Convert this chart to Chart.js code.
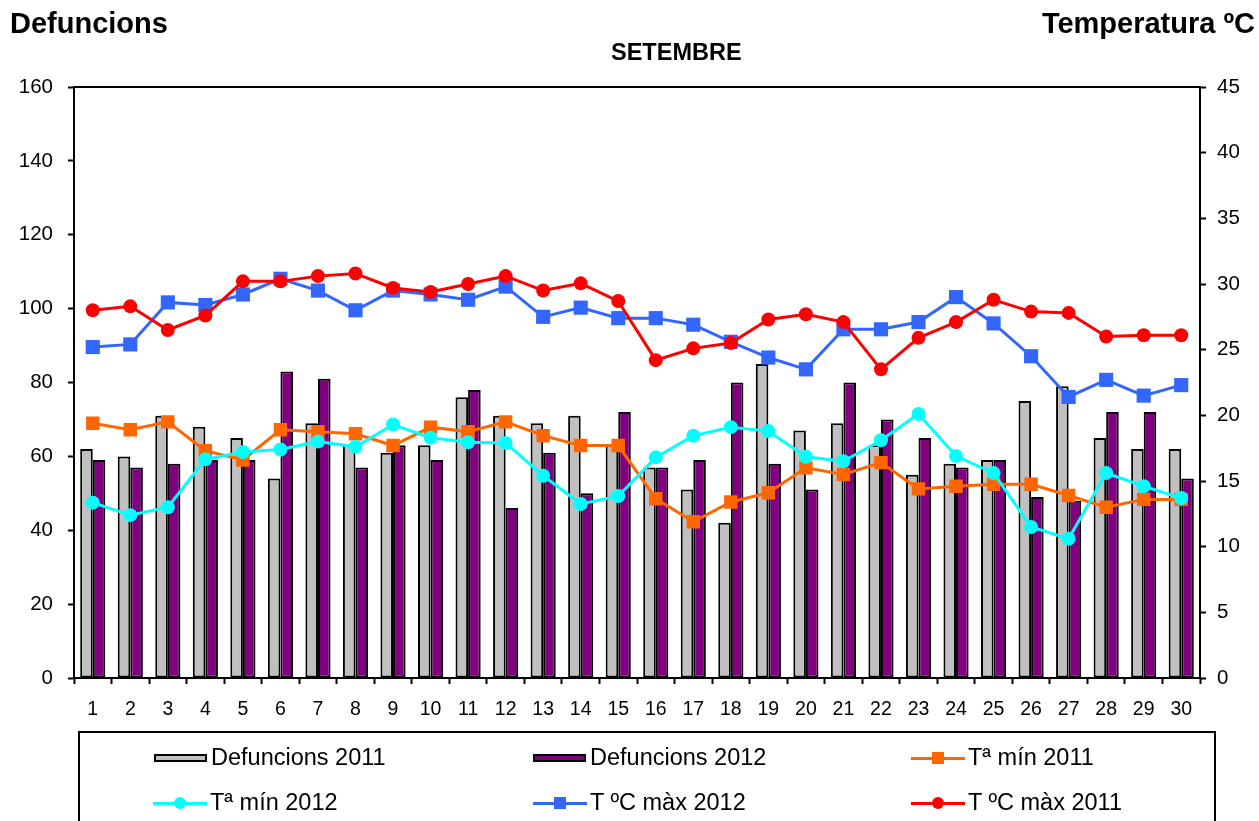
<!DOCTYPE html>
<html>
<head>
<meta charset="utf-8">
<script src="https://cdn.jsdelivr.net/npm/chart.js@4.4.0/dist/chart.umd.min.js"></script>
<style>
  body { margin: 0; width: 1259px; height: 821px; overflow: hidden; background: #fff;
         font-family: Arial, "Liberation Sans", sans-serif; position: relative; }
  #chart { position: absolute; left: 0; top: 0; }
  .hdr { position: absolute; font-weight: bold; font-size: 29px; line-height: 29px; color: #000; white-space: nowrap; }
  .ttl { position: absolute; font-weight: bold; font-size: 23.5px; line-height: 23.5px; white-space: nowrap; }
  #legend { position: absolute; left: 78px; top: 731px; width: 1138px; height: 120px;
            border: 2px solid #000; box-sizing: border-box; }
  .item { position: absolute; font-size: 23.5px; line-height: 23.5px; white-space: nowrap; color: #000; }
  .item span { position: absolute; left: 57px; top: 0; }
  .box { position: absolute; left: 0; top: 8px; width: 53px; height: 8px; border: 2px solid #000; box-sizing: border-box; }
  .ln { position: absolute; left: 0; top: 11px; width: 54px; height: 3px; }
  .mk { position: absolute; left: 21px; top: 6px; width: 12px; height: 12px; }
</style>
</head>
<body>
<canvas id="chart" width="1259" height="821"></canvas>
<div class="hdr" style="left:10px; top:9px;">Defuncions</div>
<div class="hdr" style="right:4px; top:9px;">Temperatura ºC</div>
<div class="ttl" style="left:611px; top:41px;">SETEMBRE</div>
<div id="legend"></div>

<script>
// day of month
const days = ['1','2','3','4','5','6','7','8','9','10','11','12','13','14','15',
              '16','17','18','19','20','21','22','23','24','25','26','27','28','29','30'];

// deaths (left axis)
const defuncions2011 = [62, 60, 71, 68, 65, 54, 69, 63, 61, 63, 76, 71, 69, 71, 63,
                        57, 51, 42, 85, 67, 69, 63, 55, 58, 59, 75, 79, 65, 62, 62];
const defuncions2012 = [59, 57, 58, 59, 59, 83, 81, 57, 63, 59, 78, 46, 61, 50, 72,
                        57, 59, 80, 58, 51, 80, 70, 65, 57, 59, 49, 48, 72, 72, 54];

// temperatures (right axis)
const tMin2011 = [19.4, 18.9, 19.5, 17.3, 16.6, 18.9, 18.75, 18.6, 17.7, 19.1, 18.75, 19.5, 18.45, 17.7, 17.7,
                  13.65, 11.9, 13.4, 14.1, 16.0, 15.5, 16.4, 14.4, 14.6, 14.75, 14.75, 13.9, 13.0, 13.6, 13.6];
const tMin2012 = [13.35, 12.4, 13.0, 16.65, 17.2, 17.4, 18.0, 17.6, 19.3, 18.3, 17.95, 17.9, 15.4, 13.25, 13.85,
                  16.8, 18.45, 19.1, 18.8, 16.85, 16.5, 18.1, 20.1, 16.9, 15.6, 11.5, 10.6, 15.6, 14.6, 13.7];
const tMax2012 = [25.2, 25.4, 28.6, 28.4, 29.2, 30.4, 29.5, 28.0, 29.5, 29.2, 28.8, 29.8, 27.5, 28.2, 27.4,
                  27.4, 26.9, 25.6, 24.4, 23.5, 26.55, 26.55, 27.1, 29.0, 27.0, 24.5, 21.4, 22.7, 21.5, 22.3];
const tMax2011 = [28.0, 28.3, 26.5, 27.6, 30.2, 30.2, 30.6, 30.8, 29.7, 29.4, 30.0, 30.6, 29.5, 30.05, 28.7,
                  24.2, 25.1, 25.5, 27.3, 27.7, 27.1, 23.5, 25.9, 27.1, 28.8, 27.9, 27.8, 26.0, 26.1, 26.1];

const leftTicks = { min: 0, max: 160, step: 20 };
const rightTicks = { min: 0, max: 45, step: 5 };

Chart.defaults.font.family = 'Arial, "Liberation Sans", sans-serif';
Chart.defaults.color = '#000';

// box around the plot (top edge)
const frame = {
    id: 'frame',
    afterDraw(chart) {
        const a = chart.chartArea, ctx = chart.ctx;
        ctx.save();
        ctx.strokeStyle = '#000';
        ctx.lineWidth = 2;
        ctx.beginPath();
        ctx.moveTo(a.left, a.top);
        ctx.lineTo(a.right, a.top);
        ctx.stroke();
        ctx.restore();
    }
};

function lineSet(label, data, color, style, radius, order) {
    return {
        type: 'line', label: label, data: data, yAxisID: 'y1',
        borderColor: color, backgroundColor: color, borderWidth: 3,
        pointStyle: style, pointRadius: radius, pointBorderWidth: 0,
        pointBackgroundColor: color, tension: 0, order: order
    };
}

new Chart(document.getElementById('chart').getContext('2d'), {
    type: 'bar',
    plugins: [frame],
    data: {
        labels: days,
        datasets: [
            { label: 'Defuncions 2011', data: defuncions2011, backgroundColor: '#C0C0C0',
              borderColor: '#000', borderWidth: 2, borderSkipped: false, yAxisID: 'y', order: 10,
              categoryPercentage: 0.67, barPercentage: 1 },
            { label: 'Defuncions 2012', data: defuncions2012, backgroundColor: '#800080',
              borderColor: '#000', borderWidth: 2, borderSkipped: false, yAxisID: 'y', order: 10,
              categoryPercentage: 0.67, barPercentage: 1 },
            lineSet('Tª mín 2011', tMin2011, '#FF6600', 'rect', 9.5, 4),
            lineSet('Tª mín 2012', tMin2012, '#00FFFF', 'circle', 7, 3),
            lineSet('T ºC màx 2012', tMax2012, '#3366FF', 'rect', 10, 2),
            lineSet('T ºC màx 2011', tMax2011, '#FF0000', 'circle', 7, 1)
        ]
    },
    options: {
        responsive: false,
        devicePixelRatio: 1,
        animation: false,
        layout: { padding: { top: 87, left: 0, right: 0, bottom: 0 } },
        plugins: { legend: { display: false }, tooltip: { enabled: false }, title: { display: false } },
        scales: {
            x: {
                grid: { offset: true, drawOnChartArea: false, tickLength: 6, tickColor: '#000', tickWidth: 2 },
                border: { color: '#000', width: 2 },
                ticks: { font: { size: 19.5 }, padding: 14, maxRotation: 0, autoSkip: false },
                afterFit(s) { s.height = 821 - 678; }
            },
            y: {
                position: 'left',
                min: leftTicks.min, max: leftTicks.max,
                grid: { drawOnChartArea: false, tickLength: 6, tickColor: '#000', tickWidth: 2 },
                border: { color: '#000', width: 2 },
                ticks: { stepSize: leftTicks.step, font: { size: 20.5 }, padding: 15 },
                afterFit(s) { s.width = 74; }
            },
            y1: {
                position: 'right',
                min: rightTicks.min, max: rightTicks.max,
                grid: { drawOnChartArea: false, tickLength: 6, tickColor: '#000', tickWidth: 2 },
                border: { color: '#000', width: 2 },
                ticks: { stepSize: rightTicks.step, font: { size: 20.5 }, padding: 11 },
                afterFit(s) { s.width = 59; }
            }
        }
    }
});

// legend, laid out in three columns like the original
const legendItems = [
    { text: 'Defuncions 2011', kind: 'bar', color: '#C0C0C0', x: 74, y: 13 },
    { text: 'Defuncions 2012', kind: 'bar', color: '#800080', x: 453, y: 13 },
    { text: 'Tª mín 2011', kind: 'rect', color: '#FF6600', x: 831, y: 13 },
    { text: 'Tª mín 2012', kind: 'circle', color: '#00FFFF', x: 73, y: 58 },
    { text: 'T ºC màx 2012', kind: 'rect', color: '#3366FF', x: 453, y: 58 },
    { text: 'T ºC màx 2011', kind: 'circle', color: '#FF0000', x: 831, y: 58 }
];
const legend = document.getElementById('legend');
legendItems.forEach(it => {
    const d = document.createElement('div');
    d.className = 'item';
    d.style.left = it.x + 'px';
    d.style.top = it.y + 'px';
    if (it.kind === 'bar') {
        d.innerHTML = `<div class="box" style="background:${it.color}"></div>`;
    } else {
        const r = it.kind === 'circle' ? 'border-radius:50%;' : '';
        d.innerHTML = `<div class="ln" style="background:${it.color}"></div>` +
                      `<div class="mk" style="background:${it.color};${r}"></div>`;
    }
    const s = document.createElement('span');
    s.textContent = it.text;
    d.appendChild(s);
    legend.appendChild(d);
});
</script>
</body>
</html>
